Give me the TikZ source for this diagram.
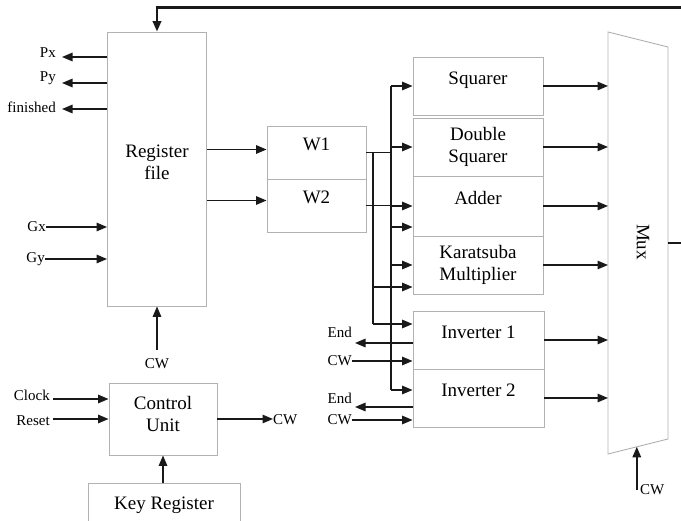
\documentclass[tikz,border=0pt]{standalone}
\usepackage{fontspec}
\setmainfont{Liberation Serif}
\usetikzlibrary{arrows.meta,calc,positioning}
\newcommand{\blkfont}{\fontsize{19}{22}\selectfont}
\newcommand{\sigfont}{\fontsize{15}{17}\selectfont}
\tikzset{
  blk/.style={draw=gray!60,line width=0.9pt,font=\blkfont,align=center,inner sep=0pt},
  lifted/.style={text height=13pt,text depth=#1},
  lifted/.default=16pt,
  sig/.style={black!90,line width=1.4pt,-{Triangle[length=10.5pt,width=8.5pt]}},
  wire/.style={black!90,line width=1.4pt},
  lbl/.style={font=\sigfont,inner sep=0pt}
}
\begin{document}
\begin{tikzpicture}[x=1pt,y=-1pt]
\useasboundingbox (0,0) rectangle (681,521);
% blocks
\node[blk,minimum width=99,minimum height=274,text height=35pt,text depth=14.4pt] (regfile) at (157,169) {Register\\file};
\node[blk,minimum width=99,minimum height=53,lifted] (w1) at (316.5,152.5) {W1};
\node[blk,minimum width=99,minimum height=53,lifted] (w2) at (316.5,205.5) {W2};
\node[blk,minimum width=130,minimum height=58,lifted] (sq) at (478,86) {Squarer};
\node[blk,minimum width=130,minimum height=58] (dsq) at (478,147) {Double\\Squarer};
\node[blk,minimum width=130,minimum height=60,lifted] (add) at (478,206) {Adder};
\node[blk,minimum width=130,minimum height=58] (kara) at (478,265) {Karatsuba\\Multiplier};
\node[blk,minimum width=131,minimum height=58,lifted] (inv1) at (478.5,340) {Inverter 1};
\node[blk,minimum width=131,minimum height=58,lifted] (inv2) at (478.5,398) {Inverter 2};
\node[blk,minimum width=108,minimum height=72,text height=35pt,text depth=10.4pt] (cu) at (163,419) {Control\\Unit};
\node[blk,minimum width=152,minimum height=50,lifted=10.5pt] (keyreg) at (164,508) {Key Register};
% mux
\coordinate (mux nw) at (608,32);
\coordinate (mux ne) at (668,47);
\coordinate (mux se) at (668,439);
\coordinate (mux sw) at (608,454);
\draw[blk] (mux nw) -- (mux ne) -- (mux se) -- (mux sw) -- cycle;
\node[font=\blkfont,rotate=-90] (muxname) at (643,242) {Mux};
% feedback to the register file
\coordinate (muxout) at (668,243);
\coordinate (fbturn) at (696,243);
\draw[wire] (muxout) -- (fbturn);
\draw[sig,line width=2.2pt] (fbturn) |- ([yshift=24pt]regfile.north) -- (regfile.north);
% register file ports
\coordinate (pxo) at (62,57);
\coordinate (pyo) at (62,83);
\coordinate (fino) at (62,109);
\foreach \p in {pxo,pyo,fino}
  \draw[sig] (regfile.west |- \p) -- (\p);
\node[lbl,anchor=east] (pxl) at (56,53) {Px};
\node[lbl,anchor=east] (pyl) at (56,78) {Py};
\node[lbl,anchor=east] (finl) at (56,107) {finished};
\node[lbl,anchor=east] (gxl) at (46,227) {Gx};
\node[lbl,anchor=east] (gyl) at (45,259) {Gy};
\draw[sig] (gxl.east) -- (gxl.east -| regfile.west);
\draw[sig] (gyl.east) -- (gyl.east -| regfile.west);
\coordinate (w1in) at ($(w1.west)+(0,-3)$);
\coordinate (w2in) at ($(w2.west)+(0,-5)$);
\draw[sig] (regfile.east |- w1in) -- (w1in);
\draw[sig] (regfile.east |- w2in) -- (w2in);
% operand buses
\coordinate (busA) at (391,0);
\coordinate (busB) at (373,0);
\coordinate (addB) at ($(add.west)+(0,21)$);
\coordinate (karaB) at ($(kara.west)+(0,22)$);
\coordinate (inv1A) at ($(inv1.west)+(0,-16)$);
\coordinate (inv2A) at ($(inv2.west)+(0,-8)$);
\draw[wire] (w1.east) -- (w1.east -| busA);
\draw[wire] (w2.east) -- (w2.east -| busA);
\draw[wire] (busA |- sq.west) -- (busA |- inv2A);
\draw[wire] (busB |- w1.east) -- (busB |- inv1A);
\foreach \t in {sq.west,dsq.west,add.west,addB,kara.west,inv2A}
  \draw[sig] (busA |- \t) -- (\t);
\foreach \t in {karaB,inv1A}
  \draw[sig] (busB |- \t) -- (\t);
% results into the mux
\foreach \b in {sq,dsq,add,kara,inv1,inv2}
  \draw[sig] (\b.east) -- (\b.east -| mux nw);
% inverter handshakes
\coordinate (end1o) at (355,343);
\coordinate (end2o) at (355,407);
\draw[sig] (inv1.west |- end1o) -- (end1o);
\draw[sig] (inv2.west |- end2o) -- (end2o);
\node[lbl,anchor=east] (end1l) at (352,332) {End};
\node[lbl,anchor=east] (end2l) at (352,398) {End};
\node[lbl,anchor=east] (cw1l) at (352,361) {CW};
\node[lbl,anchor=east] (cw2l) at (352,420) {CW};
\draw[sig] (cw1l.east) -- (cw1l.east -| inv1.west);
\draw[sig] (cw2l.east) -- (cw2l.east -| inv2.west);
% control unit
\coordinate (clko) at (53,399);
\coordinate (rsto) at (53,419);
\node[lbl,anchor=east] (clkl) at (50,395) {Clock};
\node[lbl,anchor=east] (rstl) at (50,421) {Reset};
\draw[sig] (clko) -- (clko -| cu.west);
\draw[sig] (rsto) -- (rsto -| cu.west);
\node[lbl,anchor=west] (cwcu) at (273,420) {CW};
\draw[sig] (cu.east) -- (cu.east -| cwcu.west);
\node[lbl] (cwrf) at (157,364) {CW};
\coordinate (cwrfo) at (157,350);
\draw[sig] (cwrfo) -- (cwrfo |- regfile.south);
\draw[sig] (keyreg.north -| cu.south) -- (cu.south);
% mux select
\path (mux sw) -- (mux se) coordinate[pos=0.48] (muxsel);
\node[lbl,anchor=west] (cwmux) at (640,490) {CW};
\draw[sig] (muxsel |- cwmux) -- (muxsel);
\end{tikzpicture}
\end{document}
